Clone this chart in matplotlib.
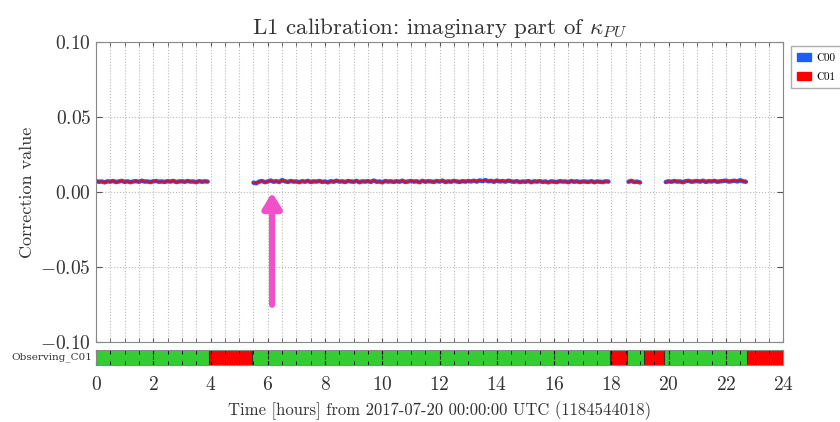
import numpy as np
import matplotlib.pyplot as plt
from matplotlib.patches import Patch
from matplotlib.ticker import MultipleLocator

plt.rcParams['font.family'] = ['cmr10', 'DejaVu Serif']
plt.rcParams['mathtext.fontset'] = 'cm'
plt.rcParams['axes.formatter.use_mathtext'] = True

# kappa_PU imaginary part, units of 1e-3, one value every 0.1 h per lock stretch
seg_starts = [0.0, 5.5, 18.6, 19.9]
seg_vals = [
    [7.2, 6.8, 7.0, 6.4, 7.1, 6.9, 7.3, 6.6, 7.0, 7.4, 6.7, 7.1, 6.5, 7.0, 7.2, 6.8, 7.5, 6.9, 7.0, 6.6,
     7.1, 7.3, 6.8, 7.0, 6.7, 7.2, 6.9, 7.4, 6.6, 7.0, 7.1, 6.8, 7.3, 6.9, 7.0, 6.5, 7.2, 6.8, 7.1, 6.9],
    [6.2, 5.8, 6.9, 7.3, 6.5, 7.0, 7.6, 6.8, 7.2, 6.6, 7.9, 7.1, 6.7, 7.3, 6.9, 7.0, 6.5, 7.2, 6.8, 7.4,
     6.6, 7.1, 6.9, 7.3, 6.7,
     7.0, 6.4, 7.2, 6.8, 7.5, 6.9, 7.1, 6.6, 7.3, 7.0, 6.8, 7.4, 6.5, 7.1, 6.9, 7.2, 6.7, 7.6, 6.8, 7.0,
     6.4, 7.3, 6.9, 7.1, 6.7,
     7.2, 6.8, 7.5, 6.6, 7.0, 7.3, 6.9, 7.1, 6.5, 7.4, 6.8, 7.2, 7.0, 6.7, 7.3, 6.9, 7.6, 6.6, 7.1, 6.8,
     7.4, 7.0, 6.7, 7.2, 6.9,
     7.3, 7.0, 7.5, 6.9, 7.7, 7.2, 7.9, 7.1, 7.4, 6.8, 7.6, 7.0, 7.3, 6.9, 7.5, 7.1, 6.8, 7.2, 6.6, 7.0,
     6.8, 7.3, 6.5, 7.1, 6.9,
     7.2, 6.7, 7.0, 6.4, 7.1, 6.8, 6.6, 7.2, 6.9, 7.0, 6.5, 7.3, 6.8, 7.1, 6.6, 7.0, 6.9, 6.7, 7.2, 6.5,
     7.0, 6.8, 6.6, 7.1, 6.9],
    [6.8, 7.4, 6.6, 6.9, 6.3],
    [6.6, 7.1, 6.8, 7.3, 6.9, 7.0, 6.5, 7.2, 7.4, 6.8, 7.1, 7.3, 6.9, 7.5, 6.7, 7.2, 7.0, 7.4, 6.8, 7.1,
     7.3, 7.6, 6.9, 7.2, 7.5, 7.0, 7.8, 7.1, 6.8],
]

# observing segment flags (start, end, observing?)
flag_edges = [0.0, 3.95, 5.45, 17.95, 18.55, 19.15, 19.85, 22.75, 24.0]
flag_state = [1, 0, 1, 0, 1, 0, 1, 0]

fig = plt.figure(figsize=(8.4, 4.22), dpi=100)
ax = fig.add_axes([0.1143, 0.1896, 0.818, 0.711])
seg = fig.add_axes([0.1143, 0.135, 0.818, 0.0355], sharex=ax)

for t0, v in zip(seg_starts, seg_vals):
    t = t0 + 0.1 * np.arange(len(v))
    y = np.array(v) * 1e-3
    ax.plot(t, y, color='#1f5cff', lw=3.2, solid_capstyle='round')
    ax.plot(t, y, color='#ff0000', lw=1.5)

ax.set_xlim(0, 24)
ax.set_ylim(-0.10, 0.10)
ax.yaxis.set_major_locator(MultipleLocator(0.05))
ax.xaxis.set_major_locator(MultipleLocator(2))
ax.xaxis.set_minor_locator(MultipleLocator(0.5))
ax.grid(True, which='both', axis='x', color='#bbbbbb', ls=':', lw=0.8)
ax.grid(True, which='major', axis='y', color='#bbbbbb', ls=':', lw=0.8)
ax.tick_params(axis='x', which='both', labelbottom=False, direction='in', top=True, length=3, color='#555555')
ax.tick_params(axis='y', direction='in', right=True, length=4, labelsize=14, labelcolor='#333333', color='#555555')
ax.yaxis.set_major_formatter(plt.FormatStrFormatter('$%.2f$'))
for s in ax.spines.values():
    s.set_color('#888888')

ax.set_title(r'L1 calibration: imaginary part of $\kappa_{PU}$', fontsize=16.5, color='#333333', pad=6)
ax.set_ylabel('Correction value', fontsize=13, color='#333333')

leg = ax.legend(handles=[Patch(color='#1f5cff', label='C00'), Patch(color='#ff0000', label='C01')],
                loc='upper left', bbox_to_anchor=(1.003, 1.005), fontsize=8, frameon=True,
                handlelength=1.2, handleheight=0.8, handletextpad=0.5, borderpad=0.6,
                labelspacing=0.8, fancybox=False)
leg.get_frame().set_edgecolor('#999999')

for a, b, st in zip(flag_edges[:-1], flag_edges[1:], flag_state):
    seg.axvspan(a, b, color='#33cc33' if st else '#ff0000', lw=0)
    seg.axvline(b, color='#333333', lw=0.8)
seg.set_ylim(0, 1)
seg.set_yticks([])
seg.grid(True, which='major', axis='x', color='#333333', ls='--', lw=0.8)
seg.tick_params(axis='x', which='both', direction='in', top=True, length=3, labelsize=14,
                labelcolor='#333333', pad=8)
for s in seg.spines.values():
    s.set_color('#888888')
seg.text(-0.005, 0.5, 'Observing_C01', transform=seg.transAxes, ha='right', va='center',
         fontsize=7.5, color='#333333', family=['DejaVu Serif'])
seg.set_xlabel('Time [hours] from 2017-07-20 00:00:00 UTC (1184544018)', fontsize=12, color='#333333',
               labelpad=5)

# marker arrow pointing at the start of the second lock stretch
ax.annotate('', xy=(6.15, 0.0015), xytext=(6.15, -0.077),
            arrowprops=dict(arrowstyle='-|>,head_width=0.55,head_length=0.9', color='#f050c8', lw=4.5))

fig.savefig('out.png', dpi=100)
